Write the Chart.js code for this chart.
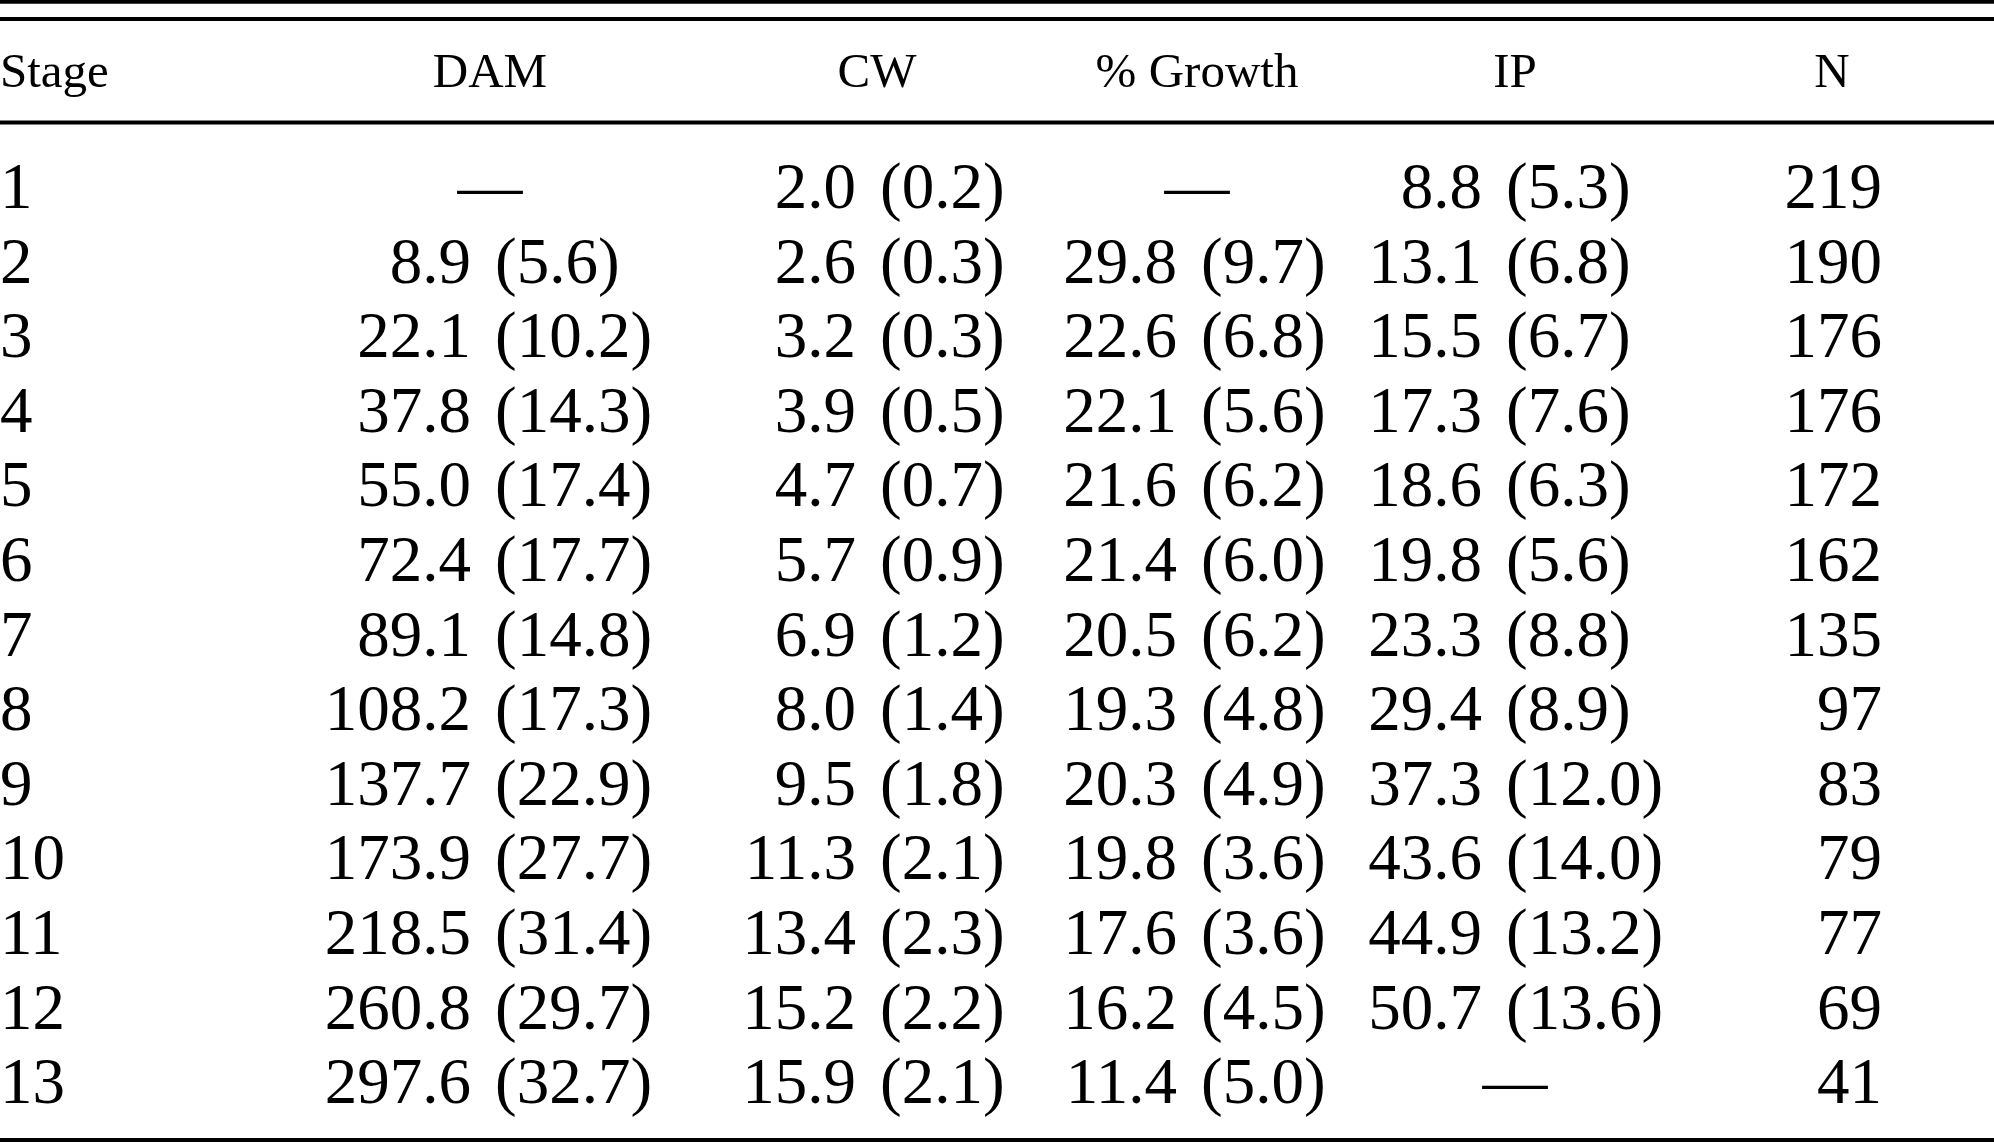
<!DOCTYPE html>
<html>
<head>
<meta charset="utf-8">
<script src="https://cdn.jsdelivr.net/npm/chart.js@4/dist/chart.umd.min.js"></script>
<style>
  html, body { margin: 0; padding: 0; background: #fff; }
  #wrap { width: 1994px; height: 1142px; position: relative; }
</style>
</head>
<body>
<div id="wrap"><canvas id="table"></canvas></div>
<script>
// Table content
const headers = ['Stage', 'DAM', 'CW', '% Growth', 'IP', 'N'];
const stages = ['1', '2', '3', '4', '5', '6', '7', '8', '9', '10', '11', '12', '13'];
const damMean = [null, 8.9, 22.1, 37.8, 55.0, 72.4, 89.1, 108.2, 137.7, 173.9, 218.5, 260.8, 297.6];
const damSD = [null, 5.6, 10.2, 14.3, 17.4, 17.7, 14.8, 17.3, 22.9, 27.7, 31.4, 29.7, 32.7];
const cwMean = [2.0, 2.6, 3.2, 3.9, 4.7, 5.7, 6.9, 8.0, 9.5, 11.3, 13.4, 15.2, 15.9];
const cwSD = [0.2, 0.3, 0.3, 0.5, 0.7, 0.9, 1.2, 1.4, 1.8, 2.1, 2.3, 2.2, 2.1];
const growthMean = [null, 29.8, 22.6, 22.1, 21.6, 21.4, 20.5, 19.3, 20.3, 19.8, 17.6, 16.2, 11.4];
const growthSD = [null, 9.7, 6.8, 5.6, 6.2, 6.0, 6.2, 4.8, 4.9, 3.6, 3.6, 4.5, 5.0];
const ipMean = [8.8, 13.1, 15.5, 17.3, 18.6, 19.8, 23.3, 29.4, 37.3, 43.6, 44.9, 50.7, null];
const ipSD = [5.3, 6.8, 6.7, 7.6, 6.3, 5.6, 8.8, 8.9, 12.0, 14.0, 13.2, 13.6, null];
const nCount = [219, 190, 176, 176, 172, 162, 135, 97, 83, 79, 77, 69, 41];

// Layout (x in canvas px units of the x scale, y in row units)
const COL_X = [0, 483, 868, 1189, 1494, 1882];      // anchor: left / split / right
const HEAD_X = [0, 490, 877, 1197, 1515, 1832];     // header & dash centres
const HEAD_ROW = -0.622;
const RULES = [-1.765, -1.533, -0.146, 13.493];
const HALF_GAP = 12;
const BODY_FONT = '65px "Liberation Serif", "Times New Roman", serif';
const HEAD_FONT = '49px "Liberation Serif", "Times New Roman", serif';

const cellColumns = [
  stages.map((s, i) => ({ text: s })),
  damMean.map((m, i) => ({ mean: m, sd: damSD[i] })),
  cwMean.map((m, i) => ({ mean: m, sd: cwSD[i] })),
  growthMean.map((m, i) => ({ mean: m, sd: growthSD[i] })),
  ipMean.map((m, i) => ({ mean: m, sd: ipSD[i] })),
  nCount.map(n => ({ text: String(n) })),
];

const tablePlugin = {
  id: 'tableText',
  afterDatasetsDraw(chart) {
    const { ctx, chartArea, scales: { x, y } } = chart;
    ctx.save();
    ctx.fillStyle = '#000';
    ctx.strokeStyle = '#000';
    ctx.lineWidth = 4;
    ctx.textBaseline = 'alphabetic';

    RULES.forEach(v => {
      const py = y.getPixelForValue(v);
      ctx.beginPath();
      ctx.moveTo(chartArea.left, py);
      ctx.lineTo(chartArea.right, py);
      ctx.stroke();
    });

    ctx.font = HEAD_FONT;
    headers.forEach((h, j) => {
      ctx.textAlign = j === 0 ? 'left' : 'center';
      ctx.fillText(h, x.getPixelForValue(HEAD_X[j]), y.getPixelForValue(HEAD_ROW));
    });

    ctx.font = BODY_FONT;
    chart.data.datasets.forEach((ds, j) => {
      const meta = chart.getDatasetMeta(j);
      meta.data.forEach((pt, i) => {
        const cell = ds.data[i];
        if (cell.text !== undefined) {
          ctx.textAlign = j === 0 ? 'left' : 'right';
          ctx.fillText(cell.text, pt.x, pt.y);
        } else if (cell.mean === null) {
          ctx.textAlign = 'center';
          ctx.fillText('\u2014', x.getPixelForValue(HEAD_X[j]), pt.y);
        } else {
          ctx.textAlign = 'right';
          ctx.fillText(cell.mean.toFixed(1), pt.x - HALF_GAP, pt.y);
          ctx.textAlign = 'left';
          ctx.fillText('(' + cell.sd.toFixed(1) + ')', pt.x + HALF_GAP, pt.y);
        }
      });
    });
    ctx.restore();
  }
};

new Chart(document.getElementById('table'), {
  type: 'scatter',
  data: {
    datasets: cellColumns.map((cells, j) => ({
      label: headers[j],
      data: cells.map((c, i) => Object.assign({ x: COL_X[j], y: i + 1 }, c)),
      pointRadius: 0,
      pointHoverRadius: 0,
    })),
  },
  options: {
    responsive: true,
    maintainAspectRatio: false,
    animation: false,
    events: [],
    layout: { padding: 0 },
    plugins: { legend: { display: false }, tooltip: { enabled: false } },
    scales: {
      x: { type: 'linear', display: false, min: 0, max: 1994 },
      y: { type: 'linear', display: false, reverse: true, min: -1.788, max: 13.52 },
    },
  },
  plugins: [tablePlugin],
});
</script>
</body>
</html>
